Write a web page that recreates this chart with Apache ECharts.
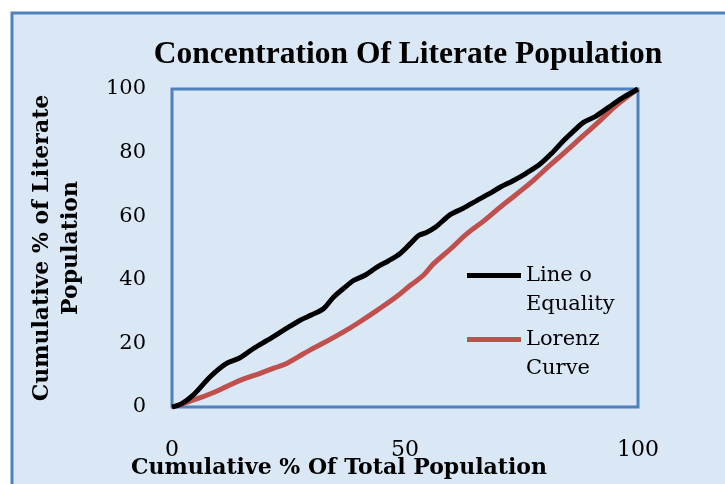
<!DOCTYPE html>
<html>
<head>
<meta charset="utf-8">
<script src="https://cdn.jsdelivr.net/npm/echarts@6/dist/echarts.min.js"></script>
<style>
html,body{margin:0;padding:0;background:#fff;}
#chart{width:725px;height:484px;}
</style>
</head>
<body>
<div id="chart"></div>
<script>
// cumulative % of total population (x) vs cumulative % of literate population (y)
var equalityX = [0, 2, 4.6, 8.2, 11.7, 14.6, 17.5, 20.5, 23.9, 27.5, 30, 32.5, 34.7, 37, 39, 41.5, 44, 46.5, 48.9, 51.1, 53, 54.5, 56.5, 59.7, 62.5, 65.4, 68, 70.4, 73, 76, 79, 81.5, 84, 86, 88.3, 91, 94.7, 97, 100];
var equalityY = [0, 1, 3.8, 9.5, 13.7, 15.5, 18.4, 21, 24.1, 27.3, 29, 30.9, 34.6, 37.5, 39.8, 41.5, 44, 46, 48.2, 51.3, 54, 54.8, 56.5, 60.5, 62.5, 64.9, 67, 69.1, 71, 73.5, 76.4, 79.8, 83.7, 86.5, 89.5, 91.5, 95.3, 97.5, 100];
var lorenzX = [0, 2, 4.6, 8, 11.7, 15, 18.9, 22, 24.6, 27, 29.6, 33, 36.8, 40, 44, 48, 51.1, 54, 56.1, 60, 63.3, 67, 70.4, 74, 77.5, 81, 84.7, 88, 91.8, 95.5, 100];
var lorenzY = [0, 0.8, 2.2, 4, 6.4, 8.6, 10.6, 12.3, 13.7, 15.7, 17.9, 20.5, 23.6, 26.5, 30.4, 34.5, 38.2, 41.5, 45, 50, 54.5, 58.6, 62.8, 67, 71.2, 75.9, 80.6, 85, 90, 95, 100];
var seriesNames = ['Line o\nEquality', 'Lorenz\nCurve'];
var xTicks = [0, 50, 100];
var yTicks = [0, 20, 40, 60, 80, 100];

function pairs(xs, ys) {
    var out = [];
    for (var i = 0; i < xs.length; i++) out.push([xs[i], ys[i]]);
    return out;
}

var chart = echarts.init(document.getElementById('chart'));

var serif = 'Liberation Serif';
var body = 'DejaVu Serif';

option = {
    animation: false,
    graphic: [
        {
            type: 'rect',
            z: -10,
            shape: { x: 12, y: 13, width: 800, height: 560 },
            style: { fill: '#dae7f4', stroke: '#4f81bd', lineWidth: 3 }
        }
    ],
    title: {
        text: 'Concentration Of Literate Population',
        left: 403,
        textAlign: 'center',
        top: 34,
        textStyle: { fontFamily: serif, fontWeight: 'bold', fontSize: 31.5, color: '#000' }
    },
    legend: {
        orient: 'vertical',
        left: 467,
        top: 261,
        padding: 0,
        itemWidth: 54,
        itemHeight: 58,
        itemGap: 6,
        symbolKeepAspect: false,
        icon: 'path://M0,0H0.01V0.01H0Z M0,12H54V17H0Z M0,57.99H0.01V58H0Z',
        itemStyle: { borderWidth: 0 },
        textStyle: { fontFamily: body, fontSize: 21, lineHeight: 29, color: '#000' },
        data: seriesNames
    },
    grid: {
        left: 172,
        right: 87,
        top: 89,
        bottom: 77,
        outerBoundsMode: 'none',
        show: true,
        borderColor: '#4f81bd',
        borderWidth: 3,
        backgroundColor: 'transparent'
    },
    xAxis: {
        type: 'value',
        min: xTicks[0],
        max: xTicks[xTicks.length - 1],
        interval: 50,
        name: 'Cumulative % Of Total Population',
        nameLocation: 'middle',
        nameGap: 50,
        nameMoveOverlap: false,
        nameTextStyle: { fontFamily: body, fontWeight: 'bold', fontSize: 22, color: '#000', padding: [0, 132, 0, 0] },
        axisLine: { show: false },
        axisTick: { show: false },
        splitLine: { show: false },
        axisLabel: { fontFamily: body, fontSize: 22, color: '#000', margin: 32 }
    },
    yAxis: {
        type: 'value',
        min: yTicks[0],
        max: yTicks[yTicks.length - 1],
        interval: 20,
        name: 'Cumulative % of Literate\nPopulation',
        nameLocation: 'middle',
        nameRotate: 90,
        nameGap: 86,
        nameMoveOverlap: false,
        nameTextStyle: { fontFamily: body, fontWeight: 'bold', fontSize: 22, lineHeight: 29, color: '#000' },
        axisLine: { show: false },
        axisTick: { show: false },
        splitLine: { show: false },
        axisLabel: { fontFamily: body, fontSize: 21, color: '#000', margin: 26 }
    },
    series: [
        {
            name: seriesNames[0],
            type: 'line',
            data: pairs(equalityX, equalityY),
            showSymbol: false,
            smooth: 0.3,
            color: '#000000',
            lineStyle: { width: 5, color: '#000000' },
            z: 3
        },
        {
            name: seriesNames[1],
            type: 'line',
            data: pairs(lorenzX, lorenzY),
            showSymbol: false,
            smooth: 0.4,
            color: '#c0504d',
            lineStyle: { width: 5, color: '#c0504d' },
            z: 2
        }
    ]
};

chart.setOption(option);
</script>
</body>
</html>
